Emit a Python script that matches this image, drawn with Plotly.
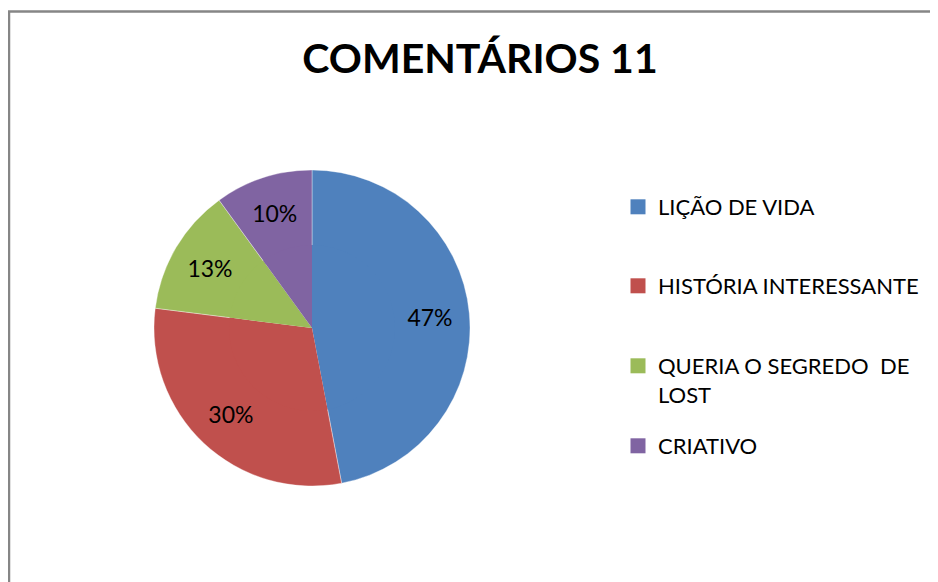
import plotly.graph_objects as go

categories = ["LIÇÃO DE VIDA", "HISTÓRIA INTERESSANTE", "QUERIA O SEGREDO  DE<br>LOST", "CRIATIVO"]
values = [47, 30, 13, 10]
colors = ["#4F81BD", "#C0504D", "#9BBB59", "#8064A2"]
title_text = "COMENTÁRIOS 11"

W, H = 938, 582
OFF = 8  # page body margin offset
FONT = "Lato, 'Open Sans', sans-serif"

# pie geometry (reference pixel coords)
cx, cy, r = 312 - OFF, 328 - OFF, 158
hole = 0.5


def dom(rad):
    return dict(x=[(cx - rad) / W, (cx + rad) / W], y=[1 - (cy + rad) / H, 1 - (cy - rad) / H])


fig = go.Figure()
# outer ring carries the percentage labels (placed around 0.75 r like Excel)
fig.add_trace(go.Pie(
    labels=categories,
    values=values,
    sort=False,
    direction="clockwise",
    rotation=0,
    hole=hole,
    marker=dict(colors=colors, line=dict(color="rgba(255,255,255,0.6)", width=0.6)),
    texttemplate="%{percent:.0%}",
    textposition="inside",
    insidetextorientation="horizontal",
    textfont=dict(family=FONT, size=23, color="black"),
    domain=dom(r),
    showlegend=False,
    hoverinfo="label+percent",
))
# inner disc fills the hole
fig.add_trace(go.Pie(
    labels=categories,
    values=values,
    sort=False,
    direction="clockwise",
    rotation=0,
    marker=dict(colors=colors, line=dict(width=0)),
    textinfo="none",
    domain=dom(r * hole + 4),
    showlegend=False,
    hoverinfo="label+percent",
))

# legend entries, each in its own legend to mimic the spaced Excel legend
legend_y = [208, 287, 367, 447]
legend_names = ["legend", "legend2", "legend3", "legend4"]
layout_legends = {}
for i, (cat, col) in enumerate(zip(categories, colors)):
    fig.add_trace(go.Scatter(
        x=[None], y=[None], mode="markers",
        marker=dict(symbol="square", size=15, color=col, line=dict(width=0)),
        name=cat, legend=legend_names[i], showlegend=True, hoverinfo="skip",
    ))
    multi = "<br>" in cat
    layout_legends[legend_names[i]] = dict(
        x=610 / W, xanchor="left",
        y=1 - (legend_y[i] - OFF - 22) / H, yanchor="top",
        valign="top" if multi else "middle",
        font=dict(family=FONT, size=22, color="black"),
        bgcolor="rgba(0,0,0,0)",
        itemclick=False, itemdoubleclick=False,
    )

fig.update_layout(
    width=W, height=H,
    margin=dict(l=0, r=0, t=0, b=0),
    paper_bgcolor="white",
    plot_bgcolor="white",
    xaxis=dict(visible=False),
    yaxis=dict(visible=False),
    title=dict(
        text="<b>" + title_text + "</b>",
        x=(480 - OFF) / W, xanchor="center",
        y=1 - (59 - OFF) / H, yanchor="middle",
        font=dict(family=FONT, size=41, color="black"),
    ),
    shapes=[dict(
        type="rect", xref="paper", yref="paper",
        x0=(9 - OFF) / W, x1=1.2, y0=-0.2, y1=1 - (11.5 - OFF) / H,
        line=dict(color="#868686", width=2.5),
        fillcolor="rgba(0,0,0,0)",
    )],
    **layout_legends,
)

fig.write_html("out.html")
